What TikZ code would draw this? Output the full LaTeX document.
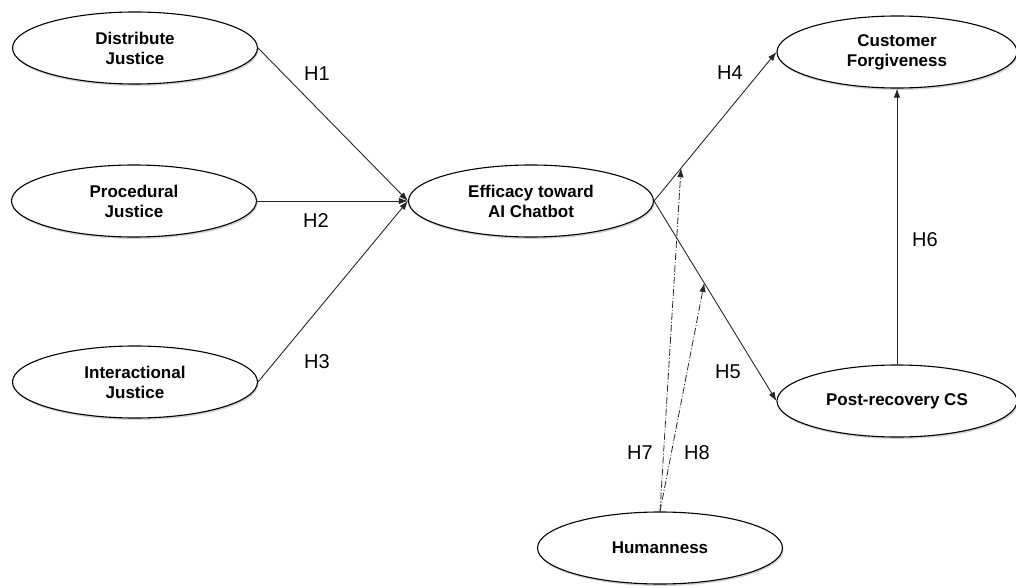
\documentclass[tikz,border=0pt]{standalone}
\usepackage{fontspec}
\setmainfont{Liberation Sans}
\usetikzlibrary{shapes.geometric,arrows.meta,shadows}
\begin{document}
\begin{tikzpicture}[x=1pt,y=-1pt,
  construct/.style={ellipse,draw=black,line width=1.1pt,fill=white,
    minimum width=245pt,minimum height=72pt,inner sep=0pt,align=center,
    font=\fontsize{17}{20}\selectfont\bfseries,
    drop shadow={shadow xshift=1pt,shadow yshift=-2pt,opacity=0.35}},
  path/.style={draw=black!85,line width=0.9pt,-{Latex[length=9pt,width=6.5pt]}},
  modpath/.style={draw=black!85,line width=0.8pt,dash pattern=on 7pt off 2pt on 1pt off 2pt,-{Latex[length=9pt,width=6.5pt]}},
  hlabel/.style={font=\fontsize{20}{22}\selectfont}]
\useasboundingbox (0,0) rectangle (1016,588);
\node[construct] (dj) at (135,48) {Distribute\\Justice};
\node[construct] (pj) at (134,201) {Procedural\\Justice};
\node[construct] (ij) at (135,382) {Interactional\\Justice};
\node[construct] (eff) at (531,201) {Efficacy toward\\AI Chatbot};
\node[construct,minimum width=240pt] (cf) at (897,52) {Customer\\Forgiveness};
\node[construct,minimum width=240pt] (pr) at (897,401) {Post-recovery CS};
\node[construct] (hum) at (660,548) {Humanness};
\draw[path] (dj.east) -- (eff.west);
\draw[path] (pj.east) -- (eff.west);
\draw[path] (ij.east) -- (eff.west);
\draw[path] (eff.east) -- (cf.west) coordinate[pos=0.22] (m4);
\draw[path] (eff.east) -- (pr.west) coordinate[pos=0.41] (m5);
\draw[path] (pr.north) -- (cf.south);
\draw[modpath] (hum.north) -- (m4);
\draw[modpath] (hum.north) -- (m5);
\node[hlabel] (h1) at (317,74) {H1};
\node[hlabel] (h2) at (316,221) {H2};
\node[hlabel] (h3) at (317,362) {H3};
\node[hlabel] (h4) at (730,73) {H4};
\node[hlabel] (h5) at (728,372) {H5};
\node[hlabel] (h6) at (925,240) {H6};
\node[hlabel] (h7) at (640,453) {H7};
\node[hlabel] (h8) at (697,453) {H8};
\end{tikzpicture}
\end{document}
